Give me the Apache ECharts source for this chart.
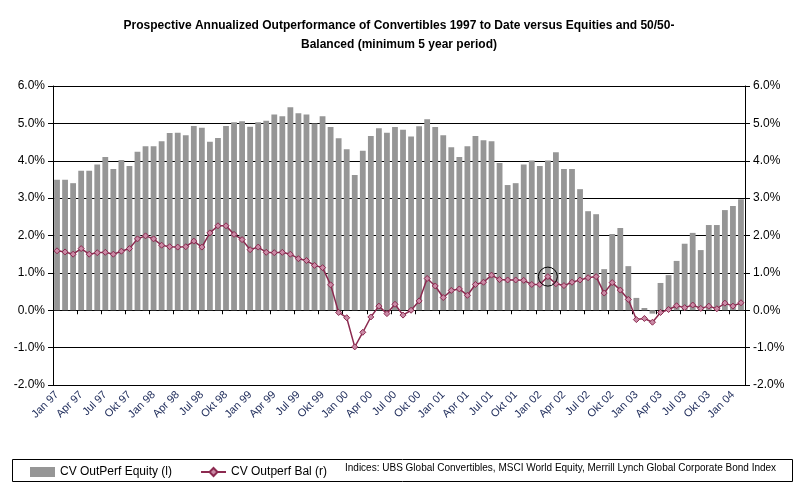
<!DOCTYPE html>
<html>
<head>
<meta charset="UTF-8">
<title>CV Outperformance</title>
<script src="https://cdn.jsdelivr.net/npm/echarts@6/dist/echarts.min.js"></script>
<style type="text/css">
	html, body {
		margin: 0;
		padding: 0;
		background: #ffffff;
	}
	#chart {
		width: 798px;
		height: 486px;
	}
</style>
</head>
<body>
<div id="chart"></div>
<script type="text/javascript">
// month names as they appear on the axis
var monthNames = ["Jan", "Feb", "Mrz", "Apr", "Mai", "Jun", "Jul", "Aug", "Sep", "Okt", "Nov", "Dez"];
var years = ["97", "98", "99", "00", "01", "02", "03", "04"];
var monthCount = 86; // Jan 97 .. Feb 04

// CV OutPerf Equity (l), in %
var equity = [
	3.49, 3.49, 3.40, 3.73, 3.73, 3.90, 4.10, 3.78, 4.02, 3.86, 4.24, 4.39,
	4.39, 4.52, 4.74, 4.75, 4.68, 4.93, 4.88, 4.51, 4.61, 4.93, 5.03, 5.06,
	4.91, 5.03, 5.07, 5.24, 5.19, 5.43, 5.27, 5.24, 5.00, 5.19, 4.90, 4.60,
	4.31, 3.62, 4.27, 4.66, 4.87, 4.75, 4.90, 4.83, 4.65, 4.92, 5.11, 4.90,
	4.68, 4.36, 4.10, 4.39, 4.66, 4.55, 4.52, 3.94, 3.35, 3.40, 3.90, 4.01,
	3.86, 4.01, 4.23, 3.78, 3.78, 3.24, 2.65, 2.57, 1.10, 2.04, 2.20, 1.18,
	0.33, 0.06, -0.09, 0.73, 0.94, 1.32, 1.78, 2.07, 1.61, 2.28, 2.28, 2.68,
	2.79, 2.97
];

// CV Outperf Bal (r), in %
var balanced = [
	1.59, 1.56, 1.50, 1.65, 1.50, 1.54, 1.55, 1.50, 1.58, 1.65, 1.91, 1.99,
	1.91, 1.74, 1.70, 1.69, 1.70, 1.85, 1.69, 2.07, 2.26, 2.26, 2.03, 1.89,
	1.62, 1.69, 1.55, 1.54, 1.55, 1.50, 1.38, 1.33, 1.20, 1.14, 0.68, -0.06,
	-0.20, -0.98, -0.59, -0.18, 0.11, -0.09, 0.16, -0.13, 0.00, 0.25, 0.85, 0.65,
	0.34, 0.53, 0.57, 0.40, 0.69, 0.75, 0.94, 0.82, 0.81, 0.81, 0.80, 0.69,
	0.69, 0.90, 0.71, 0.66, 0.75, 0.81, 0.87, 0.90, 0.46, 0.74, 0.54, 0.29,
	-0.25, -0.22, -0.32, -0.06, 0.02, 0.12, 0.07, 0.14, 0.05, 0.11, 0.04, 0.19,
	0.11, 0.20
];

// the circled point (Feb 02)
var circledIndex = 61;

var axisMin = -2;
var axisMax = 6;
var axisStep = 1;

var categories = [];
for (var i = 0; i < monthCount; i++) {
	categories.push(monthNames[i % 12] + " " + years[Math.floor(i / 12)]);
}

var fontName = "Liberation Sans, Arial, sans-serif";

var pct = function(v) {
	return v.toFixed(1) + "%";
};

var chart = echarts.init(document.getElementById("chart"), null, { renderer: "canvas" });
var option = {
	animation: false,
	backgroundColor: "#ffffff",
	textStyle: { fontFamily: fontName },
	title: {
		text: "Prospective Annualized Outperformance of Convertibles 1997 to Date versus Equities and 50/50-\nBalanced (minimum 5 year period)",
		left: "center",
		top: 11,
		textStyle: {
			fontFamily: fontName,
			fontSize: 12,
			fontWeight: "bold",
			color: "#000000",
			lineHeight: 19
		}
	},
	grid: {
		left: 53,
		right: 53,
		top: 86,
		bottom: 101,
		containLabel: false
	},
	legend: {
		left: 25,
		top: 461,
		itemWidth: 25,
		itemHeight: 10,
		itemGap: 28,
		textStyle: { fontFamily: fontName, fontSize: 12, color: "#000000" },
		data: [
			{ name: "CV OutPerf Equity (l)", icon: "rect" },
			{ name: "CV Outperf Bal (r)" }
		]
	},
	graphic: [
		{
			type: "rect",
			left: 10,
			top: 457,
			shape: { width: 780, height: 22 },
			style: { fill: "none", stroke: "#000000", lineWidth: 1 }
		},
		{
			type: "text",
			left: 345,
			top: 463,
			style: {
				text: "Indices: UBS Global Convertibles, MSCI World Equity, Merrill Lynch Global Corporate Bond Index",
				font: "10px " + fontName,
				fill: "#000000"
			}
		}
	],
	xAxis: [
		{
			type: "category",
			data: categories,
			position: "bottom",
			axisLine: { onZero: false, lineStyle: { color: "#000000", width: 1 } },
			axisTick: { show: false },
			axisLabel: {
				interval: 2,
				rotate: 45,
				margin: 8,
				fontFamily: fontName,
				fontSize: 11,
				color: "#23305e"
			},
			splitLine: { show: false }
		},
		{
			type: "category",
			data: categories,
			position: "bottom",
			axisLine: { onZero: true, lineStyle: { color: "#000000", width: 1 } },
			axisTick: { show: true, interval: 2, length: 4, lineStyle: { color: "#000000" } },
			axisLabel: { show: false },
			splitLine: { show: false }
		}
	],
	yAxis: [
		{
			type: "value",
			min: axisMin,
			max: axisMax,
			interval: axisStep,
			position: "left",
			axisLine: { show: true, lineStyle: { color: "#000000", width: 1 } },
			axisTick: { show: true, length: 5, lineStyle: { color: "#000000" } },
			axisLabel: {
				formatter: pct,
				fontFamily: fontName,
				fontSize: 12,
				color: "#000000",
				margin: 8
			},
			splitLine: { show: true, lineStyle: { color: "#000000", width: 1 } }
		},
		{
			type: "value",
			min: axisMin,
			max: axisMax,
			interval: axisStep,
			position: "right",
			axisLine: { show: true, lineStyle: { color: "#000000", width: 1 } },
			axisTick: { show: true, length: 5, lineStyle: { color: "#000000" } },
			axisLabel: {
				formatter: pct,
				fontFamily: fontName,
				fontSize: 12,
				color: "#000000",
				margin: 8
			},
			splitLine: { show: false }
		}
	],
	series: [
		{
			name: "CV OutPerf Equity (l)",
			type: "bar",
			xAxisIndex: 0,
			yAxisIndex: 0,
			data: equity,
			barCategoryGap: "28%",
			itemStyle: { color: "#969696" }
		},
		{
			name: "CV Outperf Bal (r)",
			type: "line",
			xAxisIndex: 0,
			yAxisIndex: 1,
			data: balanced,
			symbol: "diamond",
			symbolSize: 6,
			showAllSymbol: true,
			lineStyle: { color: "#8c2a50", width: 1.5 },
			itemStyle: { color: "#c98aa5", borderColor: "#8c2a50", borderWidth: 1 },
			markPoint: {
				symbol: "circle",
				symbolSize: 19,
				silent: true,
				label: { show: false },
				itemStyle: { color: "rgba(0,0,0,0)", borderColor: "#000000", borderWidth: 1 },
				data: [
					{ coord: [circledIndex, balanced[circledIndex]] }
				]
			}
		}
	]
};
chart.setOption(option);
</script>
</body>
</html>
